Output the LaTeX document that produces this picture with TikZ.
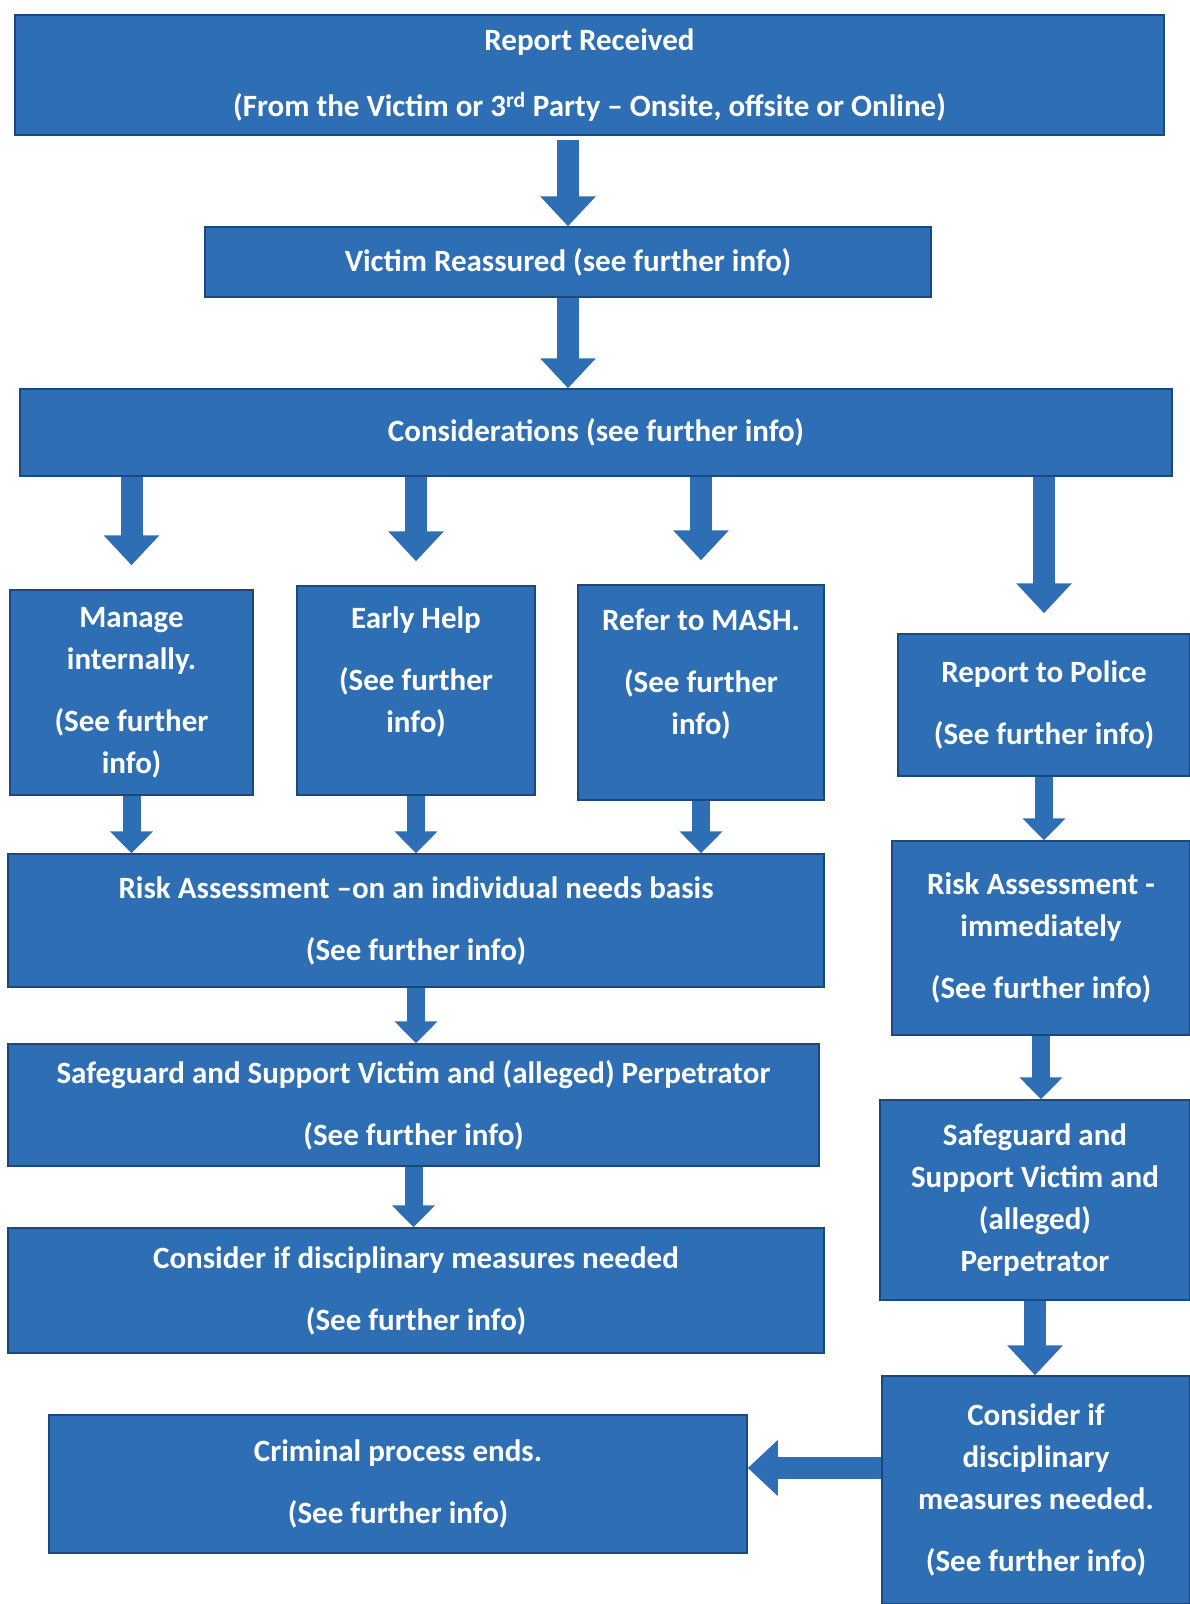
\documentclass[tikz,border=0pt]{standalone}
\usepackage{fontspec}
\setmainfont{Carlito}
\usetikzlibrary{arrows.meta}

\definecolor{boxblue}{RGB}{46,110,180}
\definecolor{edgeblue}{RGB}{28,72,128}

\tikzset{
  flowbox/.style={draw=edgeblue, line width=1.5pt, fill=boxblue, text=white,
    align=center, inner sep=0pt, font=\fontsize{31}{42}\selectfont\bfseries},
  bigarrow/.style={draw=boxblue, line width=22pt,
    -{Triangle[length=30pt, width=54pt]}},
  smallarrow/.style={draw=boxblue, line width=18pt,
    -{Triangle[length=22pt, width=42pt]}}
}

\begin{document}
\begin{tikzpicture}[x=1pt, y=-1pt]
  \useasboundingbox (0,0) rectangle (1190,1604);

  \node[flowbox, minimum width=1149pt, minimum height=120pt] (report) at (589.5,75)
    {Report Received\\[24pt](From the Victim or 3\textsuperscript{rd} Party – Onsite, offsite or Online)};
  \node[flowbox, minimum width=726pt, minimum height=70pt] (reassure) at (568,262)
    {Victim Reassured (see further info)};
  \node[flowbox, minimum width=1152pt, minimum height=87pt] (consid) at (596,432.5)
    {Considerations (see further info)};

  \node[flowbox, minimum width=243pt, minimum height=205pt] (manage) at (131.5,692.5)
    {Manage\\internally.\\[20pt](See further\\info)};
  \node[flowbox, minimum width=238pt, minimum height=209pt] (early) at (416,690.5)
    {Early Help\\[20pt](See further\\info)\\\mbox{}};
  \node[flowbox, minimum width=246pt, minimum height=215pt] (mash) at (701,692.5)
    {Refer to MASH.\\[20pt](See further\\info)\\\mbox{}};
  \node[flowbox, minimum width=292pt, minimum height=142pt] (police) at (1044,705)
    {Report to Police\\[20pt](See further info)};

  \node[flowbox, minimum width=816pt, minimum height=133pt] (riskA) at (416,920.5)
    {Risk Assessment –on an individual needs basis\\[20pt](See further info)};
  \node[flowbox, minimum width=298pt, minimum height=194pt] (riskB) at (1041,938)
    {Risk Assessment -\\immediately\\[20pt](See further info)};

  \node[flowbox, minimum width=811pt, minimum height=122pt] (safeA) at (413.5,1105)
    {Safeguard and Support Victim and (alleged) Perpetrator\\[20pt](See further info)};
  \node[flowbox, minimum width=310pt, minimum height=200pt] (safeB) at (1035,1200)
    {Safeguard and\\Support Victim and\\(alleged)\\Perpetrator};

  \node[flowbox, minimum width=816pt, minimum height=125pt] (discA) at (416,1290.5)
    {Consider if disciplinary measures needed\\[20pt](See further info)};
  \node[flowbox, minimum width=308pt, minimum height=228pt] (discB) at (1036,1490)
    {Consider if\\disciplinary\\measures needed.\\[20pt](See further info)};

  \node[flowbox, minimum width=698pt, minimum height=138pt] (crim) at (398,1484)
    {Criminal process ends.\\[20pt](See further info)};

  \draw[bigarrow, shorten <=4pt] (report.south -| reassure.north) -- (reassure.north);
  \draw[bigarrow] (reassure.south) -- (reassure.south |- consid.north);

  \foreach \b in {manage, early, mash}
    \draw[bigarrow, shorten >=24pt] (consid.south -| \b.north) -- (\b.north);
  \draw[bigarrow, shorten >=20pt] (consid.south -| police.north) -- (police.north);

  \foreach \b in {manage, early, mash}
    \draw[smallarrow] (\b.south) -- (\b.south |- riskA.north);
  \draw[smallarrow] (police.south) -- (police.south |- riskB.north);

  \draw[smallarrow] (riskA.south) -- (riskA.south |- safeA.north);
  \draw[smallarrow] (safeA.south) -- (safeA.south |- discA.north);
  \draw[smallarrow] (riskB.south) -- (riskB.south |- safeB.north);
  \draw[bigarrow] (safeB.south) -- (safeB.south |- discB.north);

  \coordinate (crimin) at ([yshift=16pt]crim.east);
  \draw[bigarrow] (discB.west |- crimin) -- (crimin);
\end{tikzpicture}
\end{document}
